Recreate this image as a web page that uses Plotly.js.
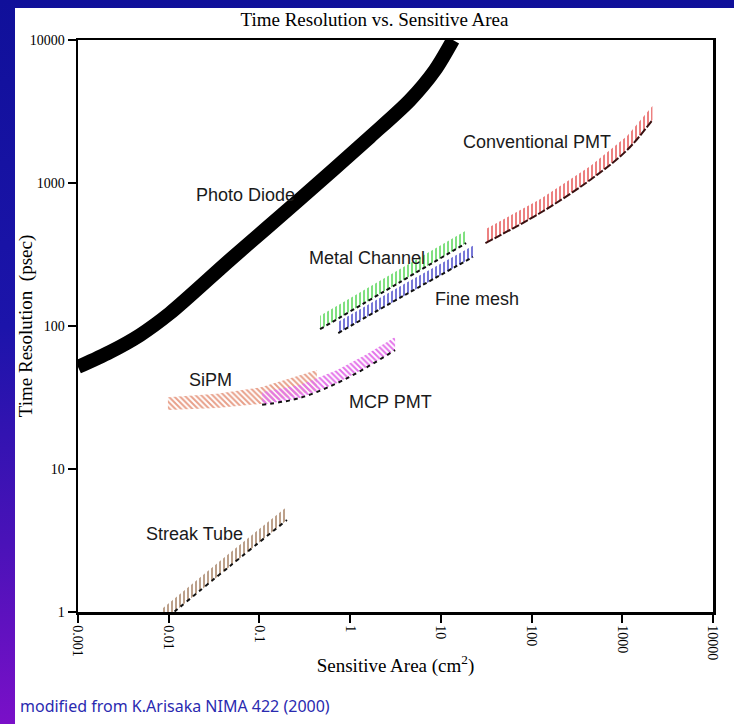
<!DOCTYPE html>
<html>
<head>
<meta charset="utf-8">
<script src="https://cdn.plot.ly/plotly-3.0.1.min.js"></script>
<style>
  html, body { margin: 0; padding: 0; width: 734px; height: 724px; overflow: hidden; }
  body { background: linear-gradient(to bottom, #10109a 0%, #1c14aa 45%, #4a12b8 75%, #7a10c8 100%); }
  #chart { position: absolute; left: 15px; top: 8px; width: 719px; height: 716px; background: #fff; }
</style>
</head>
<body>
<div id="chart"></div>
<script>
// Axis ticks (decades)
const xTickVals = [0.001, 0.01, 0.1, 1, 10, 100, 1000, 10000];
const xTickText = ['0.001', '0.01', '0.1', '1', '10', '100', '1000', '10000'];
const yTickVals = [1, 10, 100, 1000, 10000];
const yTickText = ['1', '10', '100', '1000', '10000'];

// Photo diode: time resolution (psec) vs sensitive area (cm^2)
const pdArea = [0.001, 0.00225, 0.00483, 0.01033, 0.0474, 0.2805, 1.656, 4.57, 8.63, 13.6];
const pdRes  = [51.7, 65.8, 86.5, 123, 290, 773, 2100, 3800, 6170, 10000];

// Conventional PMT band
const pmtArea  = [31, 124, 442, 1130, 2150];
const pmtLow   = [380, 617, 1050, 1700, 2760];
const pmtHigh  = [475, 770, 1310, 2130, 3450];

// Metal channel PMT band
const mcArea = [0.466, 3.55, 19];
const mcLow  = [95, 203, 380];
const mcHigh = [118, 250, 466];

// Fine mesh PMT band
const fmArea = [0.74, 4.03, 22.6];
const fmLow  = [89.3, 165, 304];
const fmHigh = [107, 198, 364];

// SiPM band
const sipmArea = [0.0098, 0.034, 0.102, 0.43];
const sipmLow  = [25.9, 26.7, 28.5, 35.7];
const sipmHigh = [31.8, 33.6, 37.2, 49.2];

// MCP PMT band
const mcpArea = [0.107, 0.28, 0.72, 1.54, 3.13];
const mcpLow  = [28.1, 31.4, 39.9, 51.6, 67.9];
const mcpHigh = [34.5, 38.6, 49.2, 63.6, 83.7];

// Streak tube band
const stArea = [0.0084, 0.0474, 0.201];
const stLow  = [0.85, 2.10, 4.40];
const stHigh = [1.05, 2.60, 5.45];

// Label text and positions (fractions of the plot area)
const labelText = ['Photo Diode', 'Conventional PMT', 'Metal Channel', 'Fine mesh', 'SiPM', 'MCP PMT', 'Streak Tube'];
const labelX = [0.2630, 0.7228, 0.4551, 0.6283, 0.2094, 0.4929, 0.1827];
const labelY = [0.7290, 0.8217, 0.6189, 0.5472, 0.4056, 0.3671, 0.1364];

function band(area, low, high, color, shape) {
  return {
    type: 'scatter', mode: 'lines',
    x: area.concat(area.slice().reverse()),
    y: low.concat(high.slice().reverse()),
    fill: 'toself',
    fillcolor: 'rgba(0,0,0,0)',
    fillpattern: { shape: shape, fgcolor: color, bgcolor: 'rgba(0,0,0,0)', size: 4, solidity: 0.5, fillmode: 'replace' },
    line: { width: 0, color: 'rgba(0,0,0,0)' },
    hoverinfo: 'skip', showlegend: false
  };
}
function edge(area, low, color, dash) {
  return {
    type: 'scatter', mode: 'lines', x: area, y: low,
    line: { color: color, width: 2, dash: dash, shape: 'spline' },
    hoverinfo: 'skip', showlegend: false
  };
}

const traces = [
  band(sipmArea, sipmLow, sipmHigh, '#e8a08a', '\\'),
  band(mcpArea, mcpLow, mcpHigh, '#e474ea', '\\'),
  edge(mcpArea, mcpLow, '#111', '4px,4px'),
  band(stArea, stLow, stHigh, '#bca08a', '|'),
  edge(stArea, stLow, '#111', '4px,4px'),
  band(mcArea, mcLow, mcHigh, '#80e080', '|'),
  edge(mcArea, mcLow, '#111', '4px,3px'),
  band(fmArea, fmLow, fmHigh, '#7878d8', '|'),
  edge(fmArea, fmLow, '#111', '4px,3px'),
  band(pmtArea, pmtLow, pmtHigh, '#ec8080', '|'),
  edge(pmtArea, pmtLow, '#3a1010', '8px,2px'),
  {
    type: 'scatter', mode: 'lines', x: pdArea, y: pdRes,
    line: { color: '#000', width: 14, shape: 'spline', smoothing: 0.8 },
    hoverinfo: 'skip', showlegend: false
  }
];

const annotations = labelText.map((t, i) => ({
  text: t, xref: 'paper', yref: 'paper', x: labelX[i], y: labelY[i],
  xanchor: 'center', yanchor: 'middle', showarrow: false,
  font: { family: 'Liberation Sans, Arial, sans-serif', size: 18, color: '#1a1a1a' }
}));
annotations.push({
  text: 'modified from K.Arisaka NIMA 422 (2000)',
  xref: 'paper', yref: 'paper', x: -0.0945, y: -0.164,
  xanchor: 'left', yanchor: 'middle', showarrow: false,
  font: { family: 'Noto Sans, sans-serif', size: 16, color: '#2a2ab0' }
});

const serif = 'Liberation Serif, Times New Roman, serif';
const axisCommon = {
  type: 'log', showgrid: false, zeroline: false,
  showline: true, linecolor: '#000', linewidth: 2.5, mirror: true,
  ticks: 'outside', ticklen: 8, tickwidth: 2, tickcolor: '#000',
  tickfont: { family: serif, size: 14, color: '#000' }
};

const layout = {
  width: 719, height: 716,
  margin: { l: 63, r: 21, t: 32, b: 112 },
  paper_bgcolor: '#fff', plot_bgcolor: '#fff',
  title: {
    text: 'Time Resolution vs. Sensitive Area',
    font: { family: serif, size: 19, color: '#000' },
    x: 0.5, xref: 'container', y: 0.994, yref: 'container', yanchor: 'top'
  },
  xaxis: Object.assign({}, axisCommon, {
    range: [-3, 4], tickvals: xTickVals, ticktext: xTickText, tickangle: 90,
    title: { text: 'Sensitive Area (cm<sup>2</sup>)', font: { family: serif, size: 19, color: '#000' }, standoff: 0 }
  }),
  yaxis: Object.assign({}, axisCommon, {
    range: [0, 4], tickvals: yTickVals, ticktext: yTickText,
    title: { text: 'Time Resolution  (psec)', font: { family: serif, size: 19, color: '#000' }, standoff: 4 }
  }),
  annotations: annotations,
  showlegend: false
};

Plotly.newPlot('chart', traces, layout, { displayModeBar: false, staticPlot: true });
</script>
</body>
</html>
